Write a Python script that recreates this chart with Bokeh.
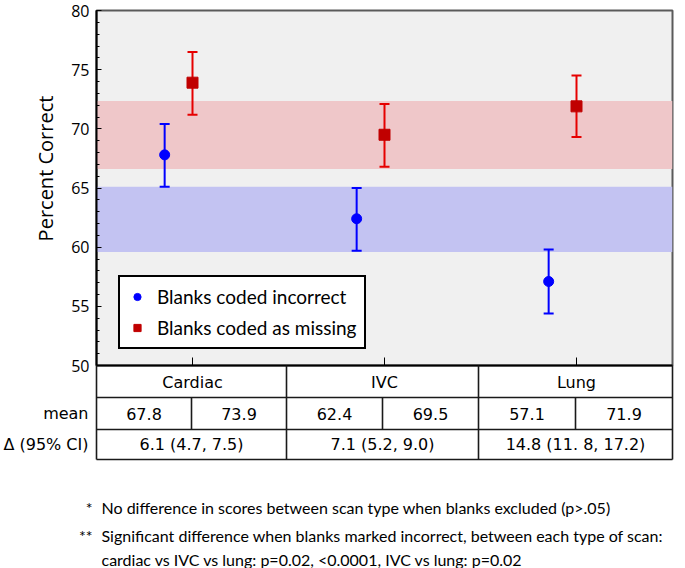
import math
from bokeh.plotting import figure
from bokeh.models import Range1d, FixedTicker, Whisker, TeeHead, ColumnDataSource, BoxAnnotation
from bokeh.core.properties import value
from bokeh.embed import file_html
from bokeh.resources import INLINE

# ---------------- data ----------------
categories = ["Cardiac", "IVC", "Lung"]
incorrect_mean = [67.8, 62.4, 57.1]
incorrect_lo = [65.1, 59.7, 54.4]
incorrect_hi = [70.4, 65.0, 59.8]
missing_mean = [73.9, 69.5, 71.9]
missing_lo = [71.2, 66.8, 69.3]
missing_hi = [76.5, 72.1, 74.5]
incorrect_band = [59.6, 65.1]
missing_band = [66.6, 72.35]
delta_labels = ["6.1 (4.7, 7.5)", "7.1 (5.2, 9.0)", "14.8 (11. 8, 17.2)"]
row_labels = ["mean", "\u0394 (95% CI)"]
y_ticks = [50, 55, 60, 65, 70, 75, 80]
y_title = "Percent Correct"
footnote_marks = ["*", "**", ""]
footnote_lines = [
    "No difference in scores between scan type when blanks excluded (p>.05)",
    "Significant difference when blanks marked incorrect, between each type of scan:",
    "cardiac vs IVC vs lung: p=0.02, <0.0001, IVC vs lung: p=0.02",
]
series_names = ["Blanks coded incorrect", "Blanks coded as missing"]

# ---------------- layout ----------------
W, H = 685, 568
FL, FR, FT, FB = 96, 13, 10, 203
FW = W - FL - FR
FH = H - FT - FB

p = figure(width=W, height=H, x_range=Range1d(0.5, 3.5), y_range=Range1d(50, 80),
           output_backend="svg", toolbar_location=None,
           min_border_left=FL, min_border_right=FR, min_border_top=FT, min_border_bottom=FB)
p.extra_x_ranges = {"px": Range1d(0, FW)}
p.extra_y_ranges = {"px": Range1d(0, FH)}

p.background_fill_color = "#F0F0F0"
p.border_fill_color = "white"
p.outline_line_color = "#5a5a5a"
p.outline_line_width = 2
p.grid.grid_line_color = None

# bands
p.add_layout(BoxAnnotation(bottom=incorrect_band[0], top=incorrect_band[1],
                           fill_color="#C3C3F2", fill_alpha=1, line_color=None, level="underlay"))
p.add_layout(BoxAnnotation(bottom=missing_band[0], top=missing_band[1],
                           fill_color="#EFC7C9", fill_alpha=1, line_color=None, level="underlay"))

# series
pos = [i + 1 for i in range(len(categories))]
blue_src = ColumnDataSource(dict(x=[v - 0.145 for v in pos], y=incorrect_mean,
                                 lo=incorrect_lo, hi=incorrect_hi))
red_src = ColumnDataSource(dict(x=[v + 0.0 for v in pos], y=missing_mean,
                                lo=missing_lo, hi=missing_hi))

for src, col in ((blue_src, "#0000FF"), (red_src, "#E60000")):
    p.add_layout(Whisker(base="x", lower="lo", upper="hi", source=src,
                         line_color=col, line_width=2,
                         upper_head=TeeHead(size=10, line_color=col, line_width=2),
                         lower_head=TeeHead(size=10, line_color=col, line_width=2)))

p.scatter("x", "y", source=blue_src, marker="circle", size=10, color="#0000FF",
          legend_label=series_names[0])
p.scatter("x", "y", source=red_src, marker="square", size=11, color="#C00000",
          legend_label=series_names[1])

# axes
ya = p.yaxis[0]
ya.ticker = FixedTicker(ticks=y_ticks, minor_ticks=list(range(50, 81)))
ya.major_label_text_font = "Open Sans"
ya.major_label_text_font_size = "16px"
ya.major_label_text_color = "black"
ya.major_label_standoff = 7
ya.axis_line_width = 2
ya.axis_line_color = "black"
ya.major_tick_in = 5
ya.major_tick_out = 0
ya.minor_tick_in = 3
ya.minor_tick_out = 0
ya.major_tick_line_color = "black"
ya.minor_tick_line_color = "black"

xa = p.xaxis[0]
xa.ticker = FixedTicker(ticks=pos)
xa.major_label_overrides = {v: c for v, c in zip(pos, categories)}
xa.major_label_text_font = "DejaVu Sans"
xa.major_label_text_font_size = "16px"
xa.major_label_text_color = "black"
xa.major_label_standoff = 7
xa.axis_line_width = 2
xa.axis_line_color = "black"
xa.major_tick_in = 8
xa.major_tick_out = 0
xa.minor_tick_line_color = None

# legend
lg = p.legend[0]
lg.location = (22, 16)
lg.border_line_color = "black"
lg.border_line_width = 2
lg.border_line_alpha = 1
lg.background_fill_color = "white"
lg.background_fill_alpha = 1
lg.label_text_font = "Lato"
lg.label_text_font_size = "19px"
lg.label_text_color = "black"
lg.glyph_width = 18
lg.glyph_height = 23
lg.label_height = 23
lg.spacing = 8
lg.padding = 8
lg.label_standoff = 11
lg.margin = 0

# y title (placed to match the reference, off-centre)
p.text(x=[-51], y=[FH - 158], text=[y_title], angle=math.pi / 2, text_align="center",
       text_baseline="middle", text_font=value("Open Sans"), text_font_size="20px",
       text_color="black", x_range_name="px", y_range_name="px", level="overlay")

# ---------------- table below the plot ----------------
row_y = [0, -32, -64, -94]
col_edges = [0, 190, 382, FW]
centers = [(col_edges[i] + col_edges[i + 1]) / 2 for i in range(3)]
seg = dict(x0=[], y0=[], x1=[], y1=[])
def add_seg(a, b, c, d):
    seg["x0"].append(a); seg["y0"].append(b); seg["x1"].append(c); seg["y1"].append(d)
for yy in row_y[1:]:
    add_seg(0, yy, FW, yy)
for e in col_edges:
    add_seg(e, 0, e, row_y[3])
for c in centers:
    add_seg(c, row_y[1], c, row_y[2])
p.segment("x0", "y0", "x1", "y1", source=ColumnDataSource(seg), line_color="#1a1a1a",
          line_width=1.6, x_range_name="px", y_range_name="px", level="overlay")

tfont = dict(text_font=value("DejaVu Sans"), text_font_size="16px", text_color="black",
             text_baseline="middle", x_range_name="px", y_range_name="px", level="overlay")
mean_y = (row_y[1] + row_y[2]) / 2
delta_y = (row_y[2] + row_y[3]) / 2
mx, my, mt = [], [], []
for i in range(3):
    l, r, c = col_edges[i], col_edges[i + 1], centers[i]
    mx += [(l + c) / 2, (c + r) / 2]
    my += [mean_y, mean_y]
    mt += [f"{incorrect_mean[i]:.1f}", f"{missing_mean[i]:.1f}"]
p.text(x=mx, y=my, text=mt, text_align="center", **tfont)
p.text(x=centers, y=[delta_y] * 3, text=delta_labels, text_align="center", **tfont)
p.text(x=[-8, -8], y=[mean_y, delta_y], text=row_labels, text_align="right", **tfont)

# footnotes
ffont = dict(text_font=value("Lato"), text_font_size="16px", text_color="black",
             text_baseline="middle", x_range_name="px", y_range_name="px", level="overlay")
fy = [-142, -170, -194]
p.text(x=[-4] * 3, y=fy, text=footnote_marks, text_align="right", **ffont)
p.text(x=[5] * 3, y=fy, text=footnote_lines, text_align="left", **ffont)

open("out.html", "w").write(file_html(p, INLINE))
